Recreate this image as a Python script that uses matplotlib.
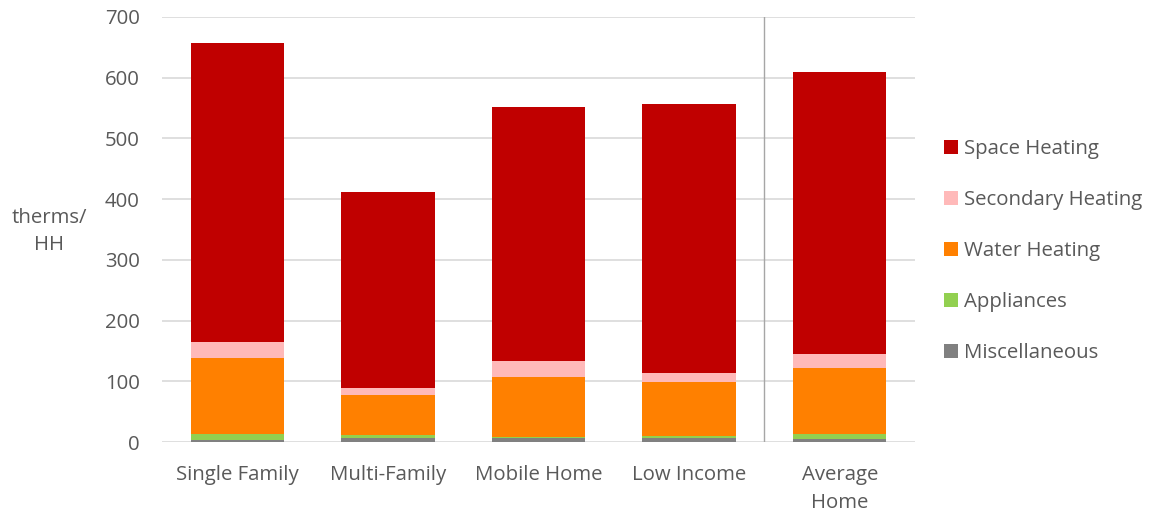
import matplotlib
matplotlib.use("Agg")
from matplotlib import pyplot as plt
import numpy as np

categories = ["Single Family", "Multi-Family", "Mobile Home", "Low Income", "Average\nHome"]
miscellaneous = [4.5, 6.5, 7, 6.5, 5.5]
appliances = [9, 6, 1, 4, 8]
water_heating = [125, 66, 100, 88, 109]
secondary_heating = [27, 10, 26, 15, 23]
space_heating = [491, 324, 417, 443, 463]

series = [
	("Miscellaneous", miscellaneous, "#808080"),
	("Appliances", appliances, "#92D050"),
	("Water Heating", water_heating, "#FF8000"),
	("Secondary Heating", secondary_heating, "#FFB9B9"),
	("Space Heating", space_heating, "#C00000"),
]

TEXTCOLOR = "#595959"
FONTSIZE = 14.7
plt.rcParams['font.family'] = ['Open Sans', 'DejaVu Sans']

fig = plt.figure(figsize=(11.5, 5.14), dpi=100)
ax = fig.add_axes([0.1409, 0.1395, 0.6548, 0.828])

x = np.arange(len(categories))
bottom = np.zeros(len(categories))
handles = []
for label, values, color in series:
	b = ax.bar(x, values, width=0.62, bottom=bottom, color=color, label=label, zorder=3)
	handles.append(b)
	bottom += np.array(values)

ax.set_xlim(-0.5, len(categories) - 0.5)
ax.set_ylim(0, 700)
ax.set_yticks(range(0, 701, 100))
ax.yaxis.grid(True, color="#D9D9D9", linewidth=1.2, zorder=0)
ax.set_axisbelow(True)
for s in ax.spines.values():
	s.set_visible(False)
ax.axvline(3.5, color="#A6A6A6", linewidth=1, zorder=1)

ax.set_xticks(x)
ax.set_xticklabels(categories, fontsize=FONTSIZE, color=TEXTCOLOR, linespacing=1.5)
ax.tick_params(axis='x', length=0, pad=16.5)
ax.tick_params(axis='y', length=0, labelsize=FONTSIZE, labelcolor=TEXTCOLOR, pad=16)

fig.text(0.043, 0.55, "therms/\nHH", fontsize=FONTSIZE, color=TEXTCOLOR,
	ha='center', va='center', linespacing=1.45)

leg = fig.legend(handles[::-1], [s[0] for s in series][::-1],
	loc='center left', bbox_to_anchor=(0.812, 0.511), frameon=False,
	fontsize=FONTSIZE, handlelength=0.7, handleheight=0.7,
	labelspacing=1.52, handletextpad=0.3, borderpad=0)
for t in leg.get_texts():
	t.set_color(TEXTCOLOR)

plt.savefig("out.png", dpi=100)
